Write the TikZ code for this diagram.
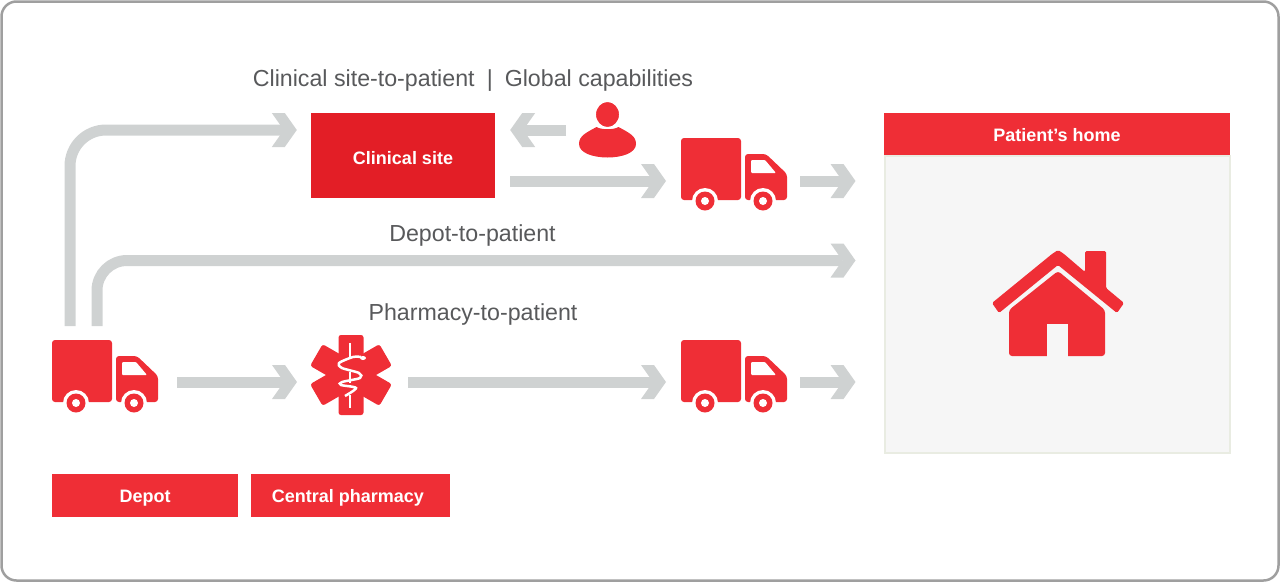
\documentclass[tikz,border=0pt]{standalone}
\usepackage{fontspec}
\setmainfont{Liberation Sans}
\usepackage{tikz}
\usetikzlibrary{arrows.meta}
\definecolor{rouge}{HTML}{EF2E36}
\definecolor{rougesite}{HTML}{E31E26}
\definecolor{gris}{HTML}{CFD2D2}
\definecolor{texte}{HTML}{58595B}
\definecolor{fond}{HTML}{F6F6F6}
\definecolor{bord}{HTML}{E9ECE2}
\pgfdeclarearrow{
name=Chevron,
setup code={\pgfarrowssettipend{0pt}\pgfarrowssetlineend{-13pt}\pgfarrowssetbackend{-25pt}\pgfarrowssetvisualbackend{-25pt}},
drawing code={
\pgfsetfillcolor{gris}
\pgfpathmoveto{\pgfpoint{0pt}{0pt}}
\pgfpathlineto{\pgfpoint{-12pt}{17pt}}
\pgfpathlineto{\pgfpoint{-25pt}{17pt}}
\pgfpathlineto{\pgfpoint{-13pt}{0pt}}
\pgfpathlineto{\pgfpoint{-25pt}{-17pt}}
\pgfpathlineto{\pgfpoint{-12pt}{-17pt}}
\pgfpathclose
\pgfusepathqfill
}}
\begin{document}
\begin{tikzpicture}[x=1pt,y=-1pt]
\tikzstyle{flow}=[-Chevron,draw=gris,line width=11pt]
\tikzset{etiquette/.style={fill=#1,text=white,font=\fontsize{18}{18}\bfseries\selectfont,inner sep=0pt,text height=17pt,text depth=4pt},
etiquette/.default={rouge},
legende/.style={text=texte,font=\fontsize{23.2}{23.2}\selectfont,inner sep=0pt},
icone/.style={minimum width=#1,inner sep=0pt,outer sep=0pt},
truck/.pic={
\begin{scope}[shift={(-53,-36)}]
\fill[rouge,rounded corners=3pt] (0,0) rectangle (60,62);
\fill[rouge,rounded corners=3pt] (64,62) -- (64,16) -- (85,16) -- (106,36) -- (106,62) -- cycle;
\fill[white,rounded corners=1pt] (70,35) -- (70,22) -- (84,22) -- (95,35) -- cycle;
\foreach \wheelx in {24,82} {
\fill[white] (\wheelx,63) circle (13);
\fill[rouge] (\wheelx,63) circle (9.5);
\fill[white] (\wheelx,63) circle (4);
}
\end{scope}
},
person/.pic={
\fill[rouge] (-28.5,14) .. controls (-28.5,6) and (-22,3) .. (-11,-3) .. controls (-6,0) and (6,0) .. (11,-3) .. controls (22,3) and (28.5,6) .. (28.5,14) .. controls (28.5,32) and (-28.5,32) .. (-28.5,14) -- cycle;
\filldraw[fill=rouge,draw=white,line width=1.5pt] (0,-15.5) ellipse (12.3 and 13.3);
},
staroflife/.pic={
\foreach \armangle in {0,60,120}
\fill[rouge,rounded corners=2.5pt,rotate=\armangle] (-12.5,-40) rectangle (12.5,40);
\draw[white,line width=2.5pt] (-1,-32) -- (-1,-16) (-1,-3) -- (-1,8) (-1,20) -- (-1,33);
\draw[white,line width=2.5pt] plot[smooth] coordinates {(10,-18) (2,-18) (-12,-12) (-9,-7) (8,-2) (9,3) (-9,7) (-10,10) (5,13) (-6,21)};
\fill[white] (12,-17) ellipse (3 and 2);
},
maison/.pic={
\fill[rouge,rounded corners=1.5pt] (-66,28) -- (-6,-21) -- (0,-25) -- (6,-21) -- (27,-3) -- (27,-24) -- (48,-24) -- (48,13) -- (66,28) -- (59,38) -- (0,-10) -- (-59,38) -- cycle;
\fill[rouge,rounded corners=3pt] (-49,35) -- (0,-4) -- (47,35) -- (47,81) -- (-49,81) -- cycle;
\fill[fond] (-11,49) rectangle (10,82);
}}
\useasboundingbox (0,0) rectangle (1280,582);
\draw[draw=gray!75,line width=2.5pt,rounded corners=15pt] (1.5,1.5) rectangle (1278.5,580.5);

\node [legende] (titrehaut) at (473,80.5) {Clinical site-to-patient\hspace{2pt} \,|\, \hspace{1.5pt}Global capabilities};
\node [legende] (titredepot) at (472.5,235.5) {Depot-to-patient};
\node [legende] (titrepharma) at (473,314.5) {Pharmacy-to-patient};

\node [etiquette=rougesite,minimum width=184pt,minimum height=85pt,text height=21pt] (site) at (403,155.5) {Clinical site};
\node [fill=fond,draw=bord,line width=2pt,minimum width=345pt,minimum height=297pt,inner sep=0pt] (home) at (1057,304) {};
\node [etiquette,minimum width=346pt,minimum height=42pt,text height=19pt] (hometitle) at (1057,134) {Patient’s home};
\node [etiquette,minimum width=186pt,minimum height=43pt] (depot) at (145,495.5) {Depot};
\node [etiquette,minimum width=199pt,minimum height=43pt] (pharmacy) at (350.5,495.5) {Central pharmacy\kern5pt};

\node [icone=106pt,minimum height=72pt] (depottruck) at (105,376) {};
\node [icone=106pt,minimum height=72pt] (toptruck) at (734,174) {};
\node [icone=106pt,minimum height=72pt] (lowtruck) at (734,376) {};
\node [icone=57pt,minimum height=56pt] (patient) at (607.5,130) {};
\node [icone=80pt,minimum height=80pt] (star) at (351,375) {};
\node [icone=132pt,minimum height=106pt] (house) at (1058,303) {};

\pic at (depottruck) {truck};
\pic at (toptruck) {truck};
\pic at (lowtruck) {truck};
\pic at (patient) {person};
\pic at (star) {staroflife};
\pic at (1058,275) {maison};

\draw [flow,rounded corners=36pt,shorten <=14pt,shorten >=14pt] ([xshift=-35pt]depottruck.north) |- ([yshift=25.5pt]site.west);
\draw [flow,rounded corners=30pt,shorten <=14pt,shorten >=28pt] ([xshift=-8pt]depottruck.north) |- ([yshift=43.5pt]home.west);
\draw [flow,shorten <=13pt,shorten >=15pt] (patient.west) -- ([yshift=25.5pt]site.east);
\draw [flow,shorten <=15pt,shorten >=15pt] ([yshift=-25.5pt]site.east) -- ([yshift=-7pt]toptruck.west);
\draw [flow,shorten <=13pt,shorten >=28pt] ([yshift=-7pt]toptruck.east) -- ([yshift=-7pt]toptruck.east -| home.west);
\draw [flow,shorten <=19pt,shorten >=14pt] ([yshift=-6pt]depottruck.east) -- ([yshift=-7pt]star.west);
\draw [flow,shorten <=17pt,shorten >=15pt] ([yshift=-7pt]star.east) -- ([yshift=-6pt]lowtruck.west);
\draw [flow,shorten <=13pt,shorten >=28pt] ([yshift=-6pt]lowtruck.east) -- ([yshift=-6pt]lowtruck.east -| home.west);
\end{tikzpicture}
\end{document}
